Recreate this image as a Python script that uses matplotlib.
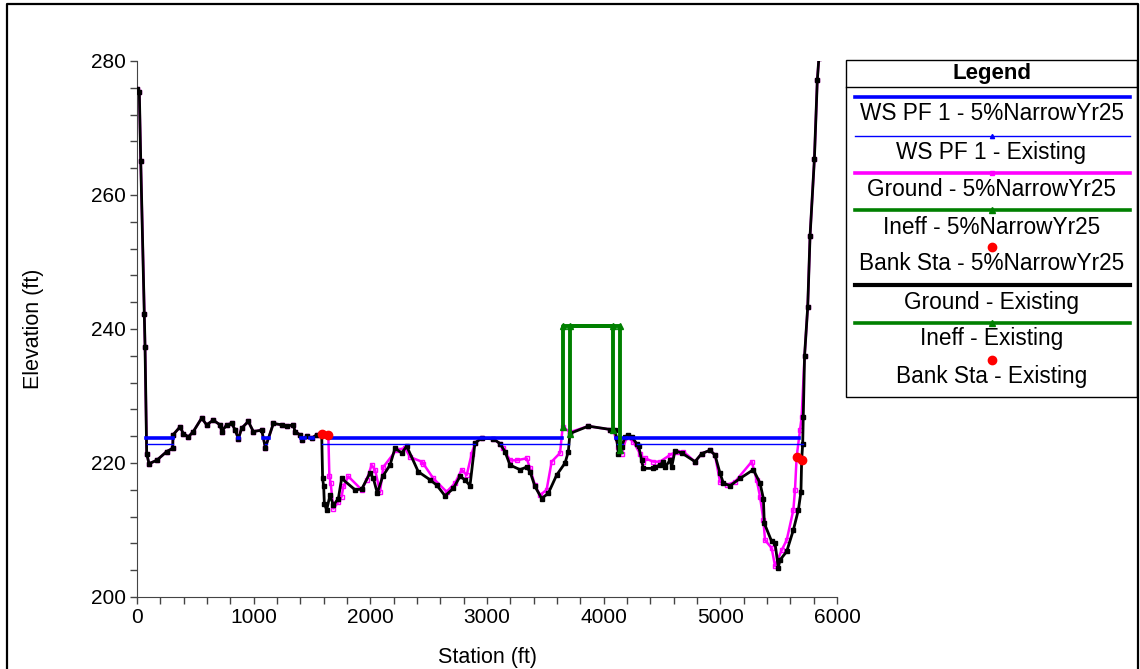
"""
HEC-RAS style cross section: existing ground vs. narrowed plan,
water surfaces, ineffective flow areas and bank stations.
"""
import numpy as np
import matplotlib
matplotlib.use("Agg")
import matplotlib.pyplot as plt
from matplotlib.patches import Rectangle
from matplotlib.ticker import MultipleLocator

plt.rcParams["font.family"] = ["Liberation Sans", "DejaVu Sans"]

# ----------------- data ------------------------------------------------------
# overbank left of the channel is shared by both plans
LEFT_STA = [0, 20, 32, 63, 69, 83, 103, 169, 254, 306, 309, 369, 397, 440, 483,
            554, 597, 654, 711, 726, 769, 811, 840, 869, 897, 954, 997, 1069,
            1100, 1169, 1240, 1283, 1340, 1354, 1397, 1412, 1454, 1497, 1540, 1583]
LEFT_ELEV = [275.8, 275.3, 265.1, 242.3, 237.3, 221.4, 219.9, 220.4, 221.7, 222.2,
             224.2, 225.4, 224.4, 223.9, 224.7, 226.7, 225.7, 226.4, 225.7, 224.7,
             225.7, 225.9, 225.0, 223.6, 225.2, 226.2, 224.7, 224.9, 222.3, 225.9,
             225.7, 225.5, 225.7, 224.7, 224.2, 223.5, 224.0, 223.7, 224.2, 224.4]

EXIST_CH_STA = [1591, 1600, 1606, 1626, 1654, 1683, 1726, 1754, 1869, 1926, 1997,
                2026, 2060, 2106, 2169, 2211, 2269, 2312, 2411, 2511, 2569, 2640,
                2711, 2769, 2811, 2854, 2897, 2954, 3054, 3111, 3154, 3197, 3283,
                3340, 3369, 3411, 3469, 3526, 3597, 3669, 3697, 3711, 3869, 4054,
                4097, 4111, 4126, 4154, 4183, 4212, 4240, 4283, 4300, 4326, 4340,
                4426, 4440, 4483, 4511, 4526, 4569, 4583, 4611, 4669, 4783, 4840,
                4911, 4954, 4997, 5026, 5083, 5169, 5283, 5340, 5369, 5377, 5440,
                5469, 5497, 5511, 5569, 5626, 5669, 5691, 5697, 5706, 5711, 5722,
                5749, 5769, 5806, 5831, 5845]
EXIST_CH_ELEV = [217.7, 216.5, 213.9, 213.0, 215.2, 213.7, 214.7, 217.7, 216.0, 216.1,
                 218.5, 217.7, 215.5, 218.0, 219.7, 222.2, 221.5, 222.5, 218.7, 217.5,
                 216.7, 215.1, 216.2, 218.0, 217.5, 216.6, 223.0, 223.7, 223.6, 222.9,
                 221.7, 219.7, 219.0, 219.4, 218.7, 216.5, 214.7, 215.5, 218.2, 220.0,
                 221.7, 224.4, 225.5, 225.0, 224.9, 223.7, 221.4, 222.4, 223.9, 224.2,
                 223.9, 222.9, 222.5, 220.4, 219.2, 219.2, 219.4, 219.7, 220.2, 219.4,
                 220.4, 219.4, 221.8, 221.5, 220.2, 221.4, 221.9, 221.2, 218.5, 217.0,
                 216.6, 217.7, 219.0, 217.0, 214.7, 211.0, 208.3, 208.0, 204.4, 205.5,
                 206.8, 210.0, 213.0, 215.7, 220.4, 222.9, 226.9, 236.0, 243.3, 253.9,
                 265.3, 277.1, 280.5]

NARROW_CH_STA = [1640, 1649, 1660, 1683, 1726, 1754, 1769, 1811, 1926, 1969, 2011,
                 2040, 2083, 2111, 2226, 2297, 2340, 2440, 2454, 2540, 2654, 2726,
                 2783, 2826, 2869, 2897, 2954, 3054, 3111, 3140, 3197, 3254, 3340,
                 3369, 3411, 3454, 3511, 3554, 3626, 3649, 3711, 3869, 4054, 4083,
                 4126, 4154, 4197, 4254, 4311, 4340, 4354, 4426, 4483, 4569, 4626,
                 4683, 4783, 4840, 4911, 4954, 4997, 5054, 5126, 5269, 5311, 5340,
                 5369, 5383, 5440, 5469, 5526, 5569, 5626, 5640, 5654, 5683, 5697,
                 5722, 5749, 5769, 5806, 5831, 5845]
NARROW_CH_ELEV = [224.2, 218.0, 217.0, 213.2, 214.2, 215.0, 216.5, 218.0, 216.0, 217.5,
                  219.7, 219.0, 215.7, 219.4, 222.0, 222.2, 220.9, 220.2, 219.9, 217.7,
                  215.7, 217.0, 219.0, 218.2, 221.4, 223.0, 223.7, 223.6, 222.9, 222.2,
                  220.4, 220.4, 220.7, 219.2, 216.7, 215.2, 216.0, 220.2, 221.5, 225.4,
                  224.6, 225.5, 225.0, 224.9, 222.4, 221.4, 223.9, 223.2, 221.4, 220.2,
                  220.7, 220.2, 220.2, 221.2, 221.7, 221.7, 220.2, 221.4, 221.9, 221.2,
                  217.2, 216.7, 217.2, 220.2, 217.5, 215.0, 211.5, 208.5, 207.3, 204.6,
                  207.0, 208.5, 213.0, 216.0, 220.9, 224.9, 226.9, 236.0, 243.3, 253.9,
                  265.3, 277.1, 280.5]

WS_NARROW = 223.8
WS_EXIST = 222.85

BANK_NARROW = [1640, 5654]
BANK_EXIST = [1583, 5697]

# (left station, right station, elevation)
INEFF_NARROW = (3649, 4140, 240.5)
INEFF_EXIST = (3711, 4083, 240.5)

LEGEND_LABELS = [
    "WS PF 1 - 5%NarrowYr25",
    "WS PF 1 - Existing",
    "Ground - 5%NarrowYr25",
    "Ineff - 5%NarrowYr25",
    "Bank Sta - 5%NarrowYr25",
    "Ground - Existing",
    "Ineff - Existing",
    "Bank Sta - Existing",
]

BLUE = "#0000ff"
MAGENTA = "#ff00ff"
GREEN = "#008000"
RED = "#ff0000"

W, H = 1140, 669


# ----------------- helpers ---------------------------------------------------
def wet_segments(sta, elev, ws):
    """Station ranges where the ground lies below the water surface."""
    segs, start = [], None
    for i in range(len(sta)):
        below = elev[i] < ws
        if i > 0:
            was_below = elev[i - 1] < ws
            if below != was_below:
                x = np.interp(ws, sorted([elev[i - 1], elev[i]]),
                              [sta[i - 1], sta[i]] if elev[i - 1] < elev[i]
                              else [sta[i], sta[i - 1]])
                if below:
                    start = x
                else:
                    segs.append((start, x))
                    start = None
        elif below:
            start = sta[i]
    return segs


def draw_ineff(ax, sta, elev, area, zorder):
    left, right, top = area
    xs = [left, left, right, right]
    ys = [np.interp(left, sta, elev), top, top, np.interp(right, sta, elev)]
    ax.plot(xs, ys, color=GREEN, lw=2.8, marker="^", ms=4.5, zorder=zorder)


# ----------------- main ------------------------------------------------------
def main():
    ex_sta = np.array(LEFT_STA + EXIST_CH_STA, dtype=float)
    ex_elev = np.array(LEFT_ELEV + EXIST_CH_ELEV, dtype=float)
    nw_sta = np.array(LEFT_STA + NARROW_CH_STA, dtype=float)
    nw_elev = np.array(LEFT_ELEV + NARROW_CH_ELEV, dtype=float)

    fig = plt.figure(figsize=(W / 100, H / 100), dpi=100)
    ax = fig.add_axes([137 / W, 1 - 597 / H, 700 / W, 536 / H])

    # ground lines
    ax.plot(nw_sta, nw_elev, color=MAGENTA, lw=1.8, marker="s", ms=3.5,
            mfc="none", mec=MAGENTA, mew=1, zorder=2)
    ax.plot(ex_sta, ex_elev, color="black", lw=2, marker="s", ms=3,
            zorder=3)

    # water surfaces
    for a, b in wet_segments(nw_sta, nw_elev, WS_NARROW):
        ax.plot([a, b], [WS_NARROW, WS_NARROW], color=BLUE, lw=2.6, zorder=4)
    for a, b in wet_segments(ex_sta, ex_elev, WS_EXIST):
        ax.plot([a, b], [WS_EXIST, WS_EXIST], color=BLUE, lw=1, zorder=4)

    # ineffective flow areas
    draw_ineff(ax, nw_sta, nw_elev, INEFF_NARROW, 5)
    draw_ineff(ax, ex_sta, ex_elev, INEFF_EXIST, 5)

    # bank stations
    for sta, elev, banks in ((nw_sta, nw_elev, BANK_NARROW),
                             (ex_sta, ex_elev, BANK_EXIST)):
        ax.plot(banks, np.interp(banks, sta, elev), ls="none", marker="o",
                ms=6, color=RED, zorder=6)

    ax.set_xlim(0, 6000)
    ax.set_ylim(200, 280)
    ax.xaxis.set_major_locator(MultipleLocator(1000))
    ax.xaxis.set_minor_locator(MultipleLocator(200))
    ax.yaxis.set_major_locator(MultipleLocator(20))
    ax.yaxis.set_minor_locator(MultipleLocator(4))
    ax.tick_params(which="both", direction="out", length=5, width=1,
                   color="#444444", labelsize=15, pad=3)
    for side in ("top", "right"):
        ax.spines[side].set_visible(False)
    for side in ("left", "bottom"):
        ax.spines[side].set_color("#444444")
    ax.set_xlabel("Station (ft)", fontsize=15.5, labelpad=14)
    ax.set_ylabel("Elevation (ft)", fontsize=15.5, labelpad=34)

    # overlay in pixel coordinates for frame and legend table
    ov = fig.add_axes([0, 0, 1, 1], zorder=10)
    ov.set_xlim(0, W)
    ov.set_ylim(H, 0)
    ov.axis("off")
    ov.patch.set_alpha(0)

    ov.plot([7, 7, 1138, 1138], [H, 4, 4, H], color="black", lw=1.6)

    lx0, lx1, ly0, ly1 = 846, 1137, 60, 397
    cx = (lx0 + lx1) / 2
    ov.add_patch(Rectangle((lx0, ly0), lx1 - lx0, ly1 - ly0, fill=False,
                           ec="black", lw=1))
    ov.plot([lx0, lx1], [87, 87], color="black", lw=1)
    ov.text(cx, 73, "Legend", ha="center", va="center", fontsize=16,
            fontweight="bold")

    sample_y = [97, 136, 173, 210, 247, 285, 323, 360]
    text_y = [114, 152, 189, 227, 264, 302, 339, 377]
    styles = [
        dict(color=BLUE, lw=2.6),
        dict(color=BLUE, lw=1, marker="^", ms=3),
        dict(color=MAGENTA, lw=2.6, marker="s", ms=3),
        dict(color=GREEN, lw=2.6, marker="^", ms=4),
        None,
        dict(color="black", lw=3),
        dict(color=GREEN, lw=2.6, marker="^", ms=4),
        None,
    ]
    for sy, ty, st, label in zip(sample_y, text_y, styles, LEGEND_LABELS):
        if st is None:
            ov.plot([cx], [sy], ls="none", marker="o", ms=6, color=RED)
        else:
            ov.plot([855, cx, 1130], [sy, sy, sy], markevery=[1], **st)
        ov.text(cx, ty, label, ha="center", va="center", fontsize=16.3)

    fig.savefig("out.png", dpi=100)


if __name__ == "__main__":
    main()
